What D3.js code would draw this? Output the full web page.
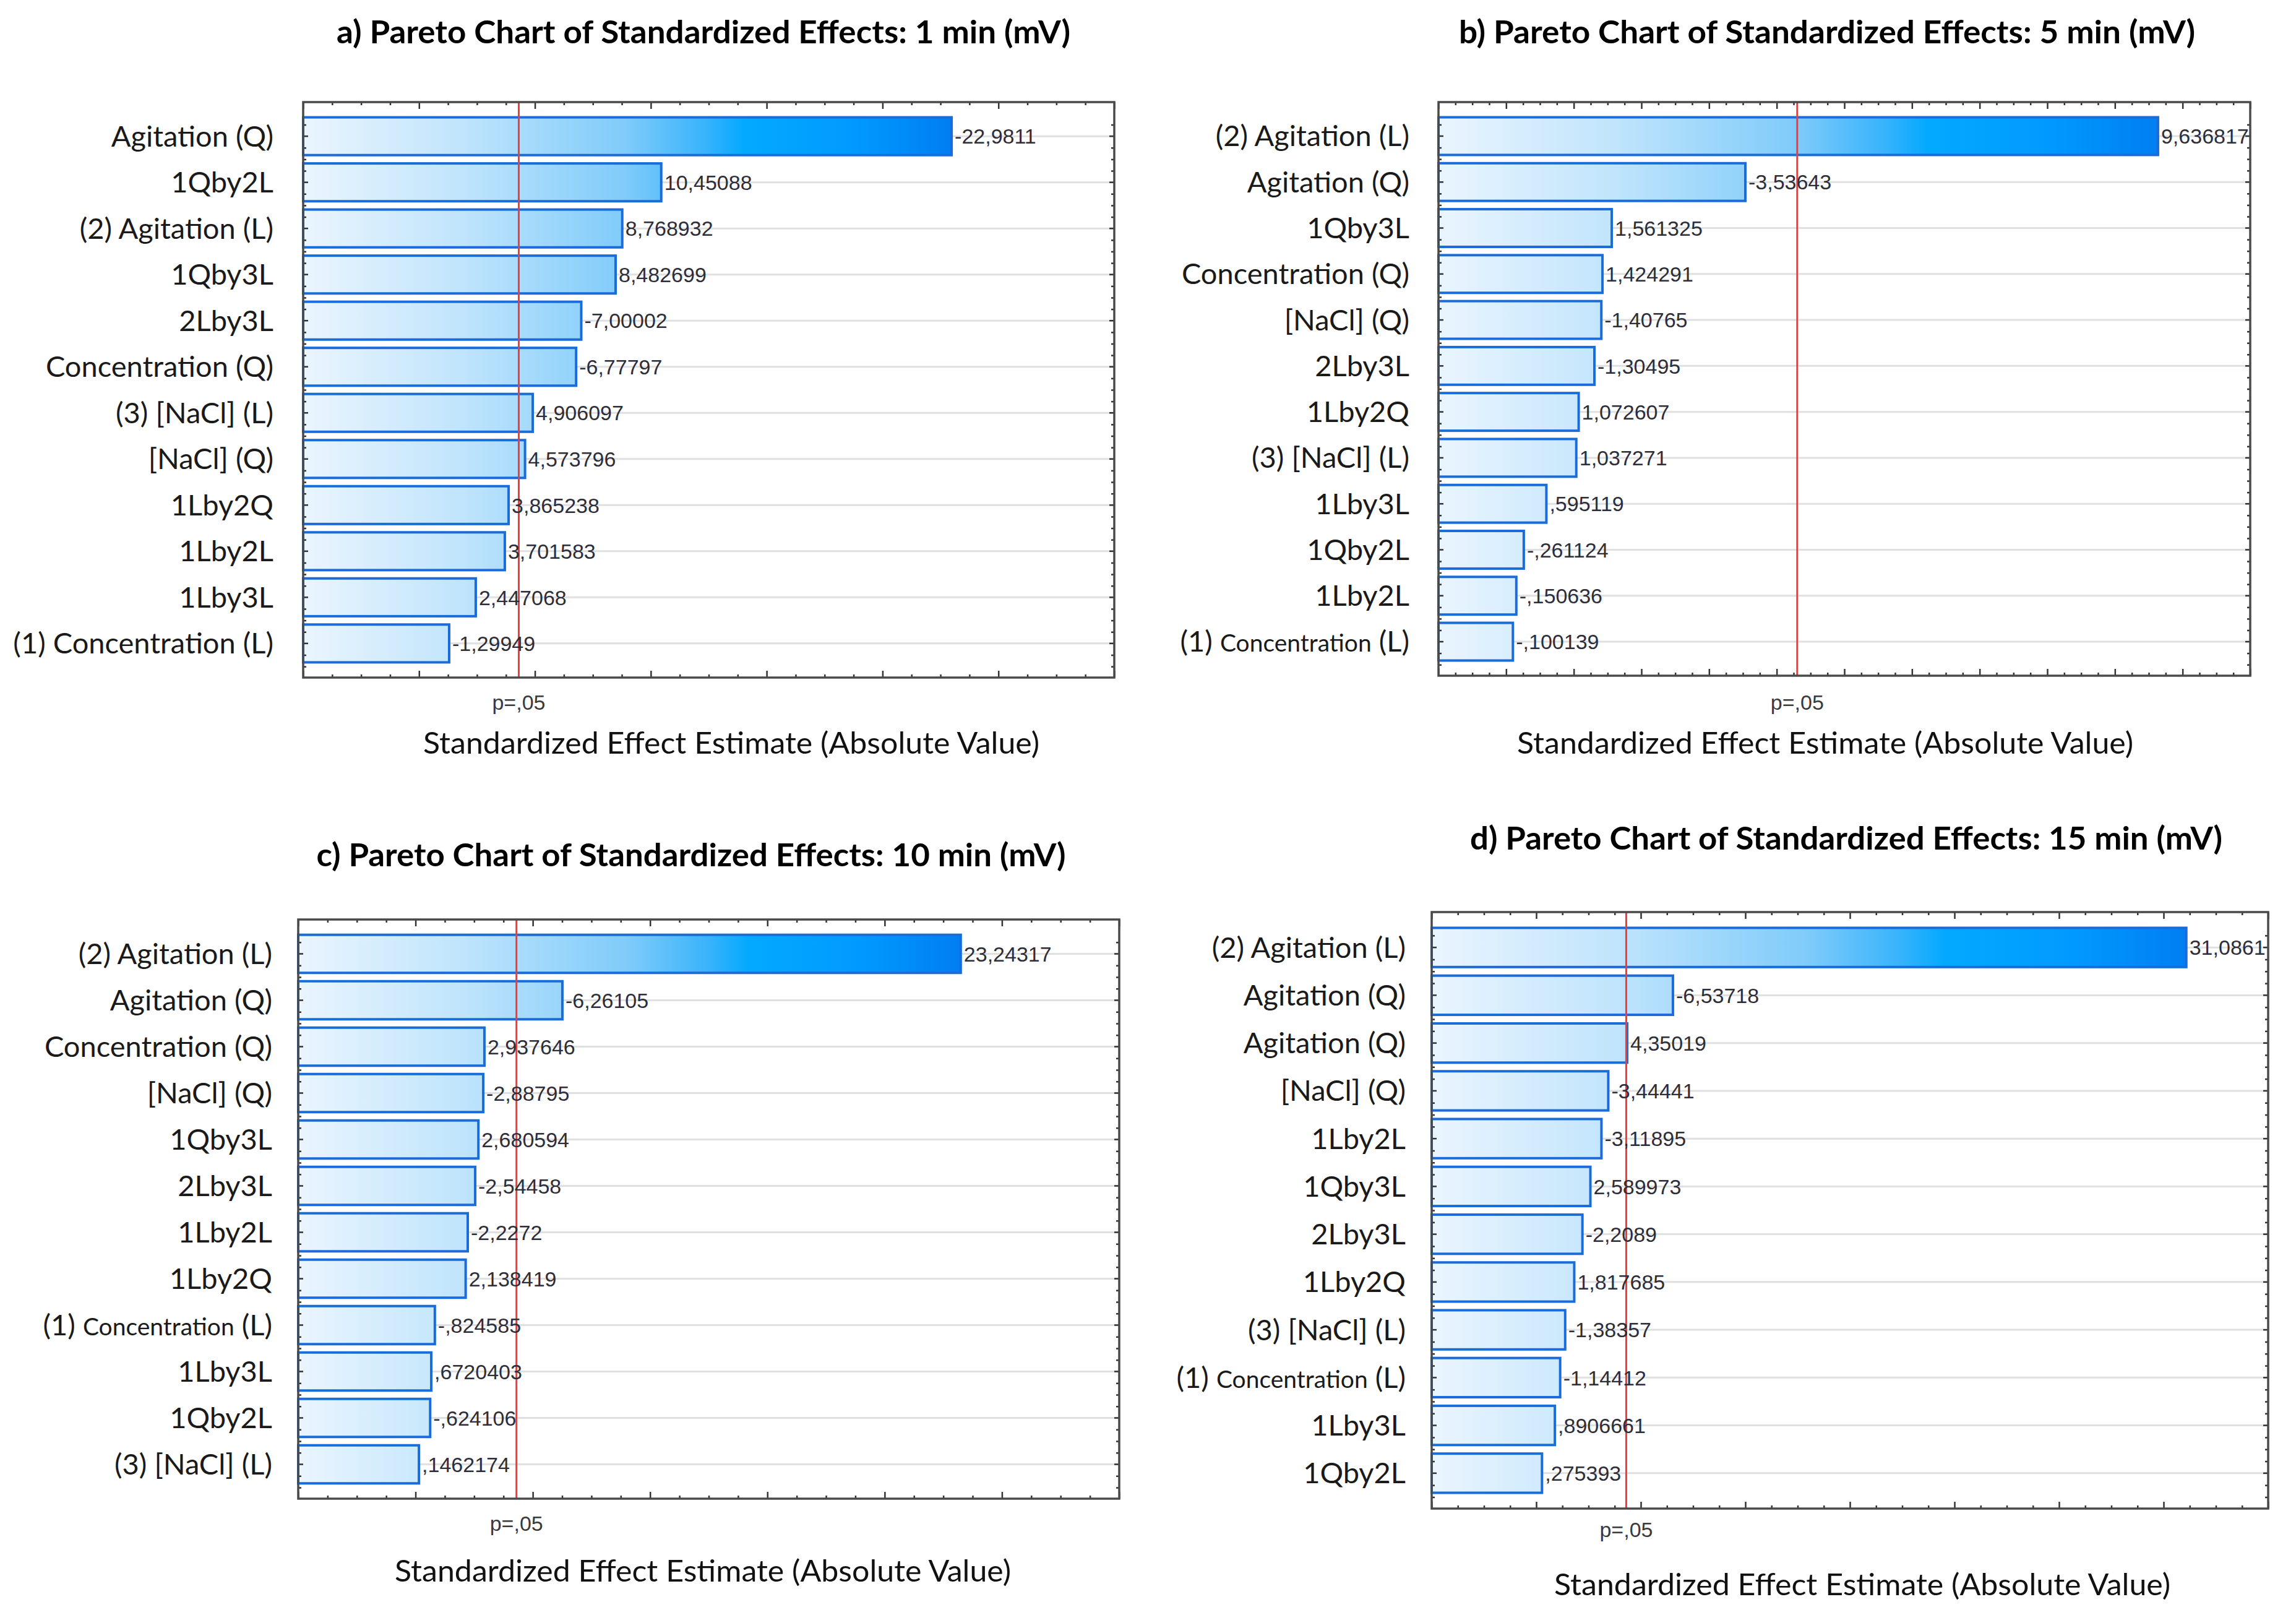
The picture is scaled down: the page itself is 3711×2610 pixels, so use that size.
<!DOCTYPE html>
<html>
<head>
<meta charset="utf-8">
<script src="https://cdn.jsdelivr.net/npm/d3@7"></script>
<style>
  body { margin: 0; background: #fff; }
  svg { display: block; }
</style>
</head>
<body>
<svg width="3711" height="2610"></svg>
<script>
// effects (top to bottom) and their standardized estimates, one set per time point
const termsA = ["Agitation (Q)", "1Qby2L", "(2) Agitation (L)", "1Qby3L", "2Lby3L", "Concentration (Q)",
  "(3) [NaCl] (L)", "[NaCl] (Q)", "1Lby2Q", "1Lby2L", "1Lby3L", "(1) Concentration (L)"];
const valuesA = [-22.9811, 10.45088, 8.768932, 8.482699, -7.00002, -6.77797,
  4.906097, 4.573796, 3.865238, 3.701583, 2.447068, -1.29949];

const termsB = ["(2) Agitation (L)", "Agitation (Q)", "1Qby3L", "Concentration (Q)", "[NaCl] (Q)", "2Lby3L",
  "1Lby2Q", "(3) [NaCl] (L)", "1Lby3L", "1Qby2L", "1Lby2L", "(1) Concentration (L)"];
const valuesB = [9.636817, -3.53643, 1.561325, 1.424291, -1.40765, -1.30495,
  1.072607, 1.037271, 0.595119, -0.261124, -0.150636, -0.100139];

const termsC = ["(2) Agitation (L)", "Agitation (Q)", "Concentration (Q)", "[NaCl] (Q)", "1Qby3L", "2Lby3L",
  "1Lby2L", "1Lby2Q", "(1) Concentration (L)", "1Lby3L", "1Qby2L", "(3) [NaCl] (L)"];
const valuesC = [23.24317, -6.26105, 2.937646, -2.88795, 2.680594, -2.54458,
  -2.2272, 2.138419, -0.824585, 0.6720403, -0.624106, 0.1462174];

const termsD = ["(2) Agitation (L)", "Agitation (Q)", "Agitation (Q)", "[NaCl] (Q)", "1Lby2L", "1Qby3L",
  "2Lby3L", "1Lby2Q", "(3) [NaCl] (L)", "(1) Concentration (L)", "1Lby3L", "1Qby2L"];
const valuesD = [31.0861, -6.53718, 4.35019, -3.44441, -3.11895, 2.589973,
  -2.2089, 1.817685, -1.38357, -1.14412, 0.8906661, 0.275393];

const titles = [
  "a) Pareto Chart of Standardized Effects: 1 min (mV)",
  "b) Pareto Chart of Standardized Effects: 5 min (mV)",
  "c) Pareto Chart of Standardized Effects: 10 min (mV)",
  "d) Pareto Chart of Standardized Effects: 15 min (mV)"
];
const xDomains = [[-5, 30], [-1, 11], [-5, 30], [-5, 35]];
const majorSteps = [5, 1, 5, 5];
const pCrit = 4.303;   // t(0.975, df=2)
const pLabel = "p=,05";
const xTitle = "Standardized Effect Estimate (Absolute Value)";

// placement of each panel in the picture
const layout = [
  { box: [490, 1801, 165, 1095], tx: 1137, ty: 70, tw: 1186, py: 1147, ax: 1182, ay: 1218, gap: 48, small: false },
  { box: [2325, 3637, 165, 1092], tx: 2953, ty: 70, tw: 1190, py: 1147, ax: 2950, ay: 1218, gap: 47, small: true },
  { box: [482, 1809, 1486, 2422], tx: 1117, ty: 1400, tw: 1211, py: 2474, ax: 1136, ay: 2556, gap: 42, small: true },
  { box: [2314, 3666, 1474, 2438], tx: 2984, ty: 1373, tw: 1216, py: 2484, ax: 3010, ay: 2578, gap: 42, small: true }
];

const svg = d3.select("svg");
const defs = svg.append("defs");

// statistica style numbers: decimal comma, no leading zero
const fmt = v => String(v).replace(".", ",").replace(/^(-?)0,/, "$1,");

function drawPanel(terms, values, i) {
  const L = layout[i];
  const dom = xDomains[i];
  const g = svg.append("g");

  const x = d3.scaleLinear().domain(dom).range([L.box[0], L.box[1]]);
  const y = d3.scaleBand().domain(d3.range(values.length))
    .range([L.box[2], L.box[3]]).paddingInner(0.18).paddingOuter(0.33);
  const bw = y.bandwidth();
  const maxV = d3.max(values, v => Math.abs(v));

  const grad = defs.append("linearGradient")
    .attr("id", "grad" + i)
    .attr("gradientUnits", "userSpaceOnUse")
    .attr("x1", x(dom[0])).attr("x2", x(maxV)).attr("y1", 0).attr("y2", 0);
  [[0, "#eaf5fe"], [0.25, "#bfe4fc"], [0.5, "#7ecbfa"], [0.62, "#38b3fb"],
   [0.68, "#03a9ff"], [0.85, "#009aff"], [1, "#007ef2"]].forEach(s => {
    grad.append("stop").attr("offset", s[0]).attr("stop-color", s[1]);
  });

  // gridlines at bar centres
  g.selectAll(".grid").data(values).enter().append("line")
    .attr("x1", L.box[0]).attr("x2", L.box[1])
    .attr("y1", (d, k) => y(k) + bw / 2).attr("y2", (d, k) => y(k) + bw / 2)
    .attr("stroke", "#e0e0e0").attr("stroke-width", 3);

  g.selectAll(".bar").data(values).enter().append("rect")
    .attr("x", x(dom[0]))
    .attr("y", (d, k) => y(k))
    .attr("width", d => x(Math.abs(d)) - x(dom[0]))
    .attr("height", bw)
    .attr("fill", "url(#grad" + i + ")")
    .attr("stroke", "#1a6cdb").attr("stroke-width", 4);

  g.append("line")
    .attr("x1", x(pCrit)).attr("x2", x(pCrit))
    .attr("y1", L.box[2]).attr("y2", L.box[3])
    .attr("stroke", "#f23a3a").attr("stroke-width", 3);

  g.selectAll(".val").data(values).enter().append("text")
    .attr("x", d => x(Math.abs(d)) + 5)
    .attr("y", (d, k) => y(k) + bw / 2)
    .attr("dy", "0.36em")
    .attr("font-family", "Liberation Sans, Arial, sans-serif")
    .attr("font-size", 34).attr("fill", "#2e2e3a")
    .text(d => fmt(d));

  // effect names
  const lab = g.selectAll(".lab").data(terms).enter().append("text")
    .attr("x", L.box[0] - L.gap)
    .attr("y", (d, k) => y(k) + bw / 2)
    .attr("dy", "0.35em")
    .attr("text-anchor", "end")
    .attr("font-family", "Lato, sans-serif")
    .attr("font-size", 47).attr("fill", "#1a1a1a");
  lab.each(function (d) {
    const m = d.match(/^(\(\d\) )(Concentration)( \(L\))$/);
    const t = d3.select(this);
    if (m && L.small) {
      t.append("tspan").text(m[1]);
      t.append("tspan").attr("font-size", 39).text(m[2]);
      t.append("tspan").text(m[3]);
    } else {
      t.text(d);
    }
  });

  // frame ticks, all pointing inward
  const ticksStyle = sel => {
    sel.select(".domain").remove();
    sel.selectAll("line").attr("stroke", "#333").attr("stroke-width", 2.5);
  };
  const major = d3.range(Math.ceil(dom[0] / majorSteps[i]) * majorSteps[i], dom[1] + 1e-9, majorSteps[i]);
  const minorStep = majorSteps[i] / 4;
  const minor = d3.range(dom[0], dom[1] + 1e-9, minorStep).filter(v => !major.some(m => Math.abs(m - v) < 1e-9));

  g.append("g").attr("transform", `translate(0,${L.box[3]})`)
    .call(d3.axisBottom(x).tickValues(major).tickSize(-11).tickFormat("")).call(ticksStyle);
  g.append("g").attr("transform", `translate(0,${L.box[3]})`)
    .call(d3.axisBottom(x).tickValues(minor).tickSize(-5).tickFormat("")).call(ticksStyle);
  g.append("g").attr("transform", `translate(0,${L.box[2]})`)
    .call(d3.axisTop(x).tickValues(major).tickSize(-11).tickFormat("")).call(ticksStyle);
  g.append("g").attr("transform", `translate(0,${L.box[2]})`)
    .call(d3.axisTop(x).tickValues(minor).tickSize(-5).tickFormat("")).call(ticksStyle);

  const yMinor = d3.scaleLinear().domain([L.box[2], L.box[3]]).range([L.box[2], L.box[3]]);
  const minorY = [];
  values.forEach((d, k) => {
    const c = y(k) + bw / 2;
    [1, 2, 3].forEach(j => minorY.push(c + j * y.step() / 4));
    if (k === 0) minorY.push(c - y.step() / 4);
  });
  const inBox = minorY.filter(v => v > L.box[2] + 2 && v < L.box[3] - 2);
  [[L.box[0], d3.axisLeft], [L.box[1], d3.axisRight]].forEach(([px, ax]) => {
    g.append("g").attr("transform", `translate(${px},0)`)
      .call(ax(y).tickSize(-8).tickFormat("")).call(ticksStyle);
    g.append("g").attr("transform", `translate(${px},0)`)
      .call(ax(yMinor).tickValues(inBox).tickSize(-5).tickFormat("")).call(ticksStyle);
  });

  g.append("rect")
    .attr("x", L.box[0]).attr("y", L.box[2])
    .attr("width", L.box[1] - L.box[0]).attr("height", L.box[3] - L.box[2])
    .attr("fill", "none").attr("stroke", "#4a4a4a").attr("stroke-width", 3.5);

  g.append("text")
    .attr("x", x(pCrit)).attr("y", L.py)
    .attr("text-anchor", "middle")
    .attr("font-family", "Liberation Sans, Arial, sans-serif")
    .attr("font-size", 34).attr("fill", "#3a3a3a")
    .text(pLabel);

  g.append("text")
    .attr("x", L.ax).attr("y", L.ay)
    .attr("text-anchor", "middle")
    .attr("font-family", "Lato, sans-serif")
    .attr("font-size", 49).attr("fill", "#111")
    .attr("textLength", 996).attr("lengthAdjust", "spacingAndGlyphs")
    .text(xTitle);

  g.append("text")
    .attr("x", L.tx).attr("y", L.ty)
    .attr("text-anchor", "middle")
    .attr("font-family", "Lato, sans-serif")
    .attr("font-weight", "bold")
    .attr("font-size", 51).attr("fill", "#000")
    .attr("textLength", L.tw).attr("lengthAdjust", "spacingAndGlyphs")
    .text(titles[i]);
}

drawPanel(termsA, valuesA, 0);
drawPanel(termsB, valuesB, 1);
drawPanel(termsC, valuesC, 2);
drawPanel(termsD, valuesD, 3);
</script>
</body>
</html>
